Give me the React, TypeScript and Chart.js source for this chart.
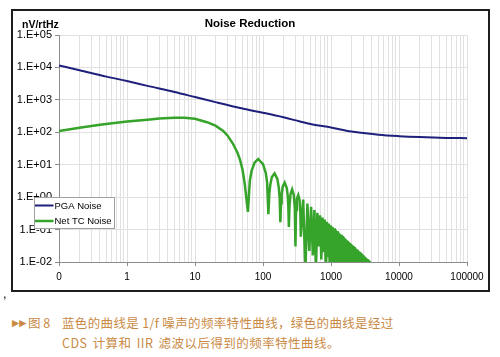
import React, { useEffect, useRef } from 'react';
import { Chart, registerables } from 'chart.js';

Chart.register(...registerables);

// ---- data ----
const chartTitle = 'Noise Reduction';
const yUnit = 'nV/rtHz';
const seriesNames = ['PGA Noise', 'Net TC Noise'];

const xTickValues = [0.1, 1, 10, 100, 1000, 10000, 100000];
const xTickLabels = ['0', '1', '10', '100', '1000', '10000', '100000'];
const yTickValues = [0.01, 0.1, 1, 10, 100, 1000, 10000, 100000];
const yTickLabels = ['1.E-02', '1.E-01', '1.E+00', '1.E+01', '1.E+02', '1.E+03', '1.E+04', '1.E+05'];

// [frequency, noise]
const pgaNoise: [number, number][] = [
  [0.1, 11500], [0.2, 8200], [0.5, 5200], [1, 3800], [2, 2700], [5, 1750],
  [10, 1220], [20, 850], [50, 540], [100, 400], [200, 290], [350, 215],
  [500, 180], [1000, 140], [2000, 105], [5000, 84], [10000, 76], [20000, 71],
  [50000, 67], [100000, 66],
];

const netTcNoise: [number, number][] = [
  [0.1, 110], [0.2, 138], [0.4, 172], [0.7, 198], [1, 214], [2, 245], [3, 265],
  [5, 280], [7, 280], [10, 260], [15, 205], [20, 160], [26, 110], [30, 80],
  [36, 45], [42, 24], [46, 14], [50, 7], [54, 2.5], [57, 0.9], [60, 0.35],
  [64, 3.2], [68, 6.5], [75, 11.5], [85, 15], [100, 10.5], [110, 5.5], [115, 2.8], [120, 0.3],
  [124, 1.3], [128, 2.4], [135, 4.2], [148, 5.4], [163, 3.6], [171, 1.9], [176, 0.9], [180, 0.17],
  [184, 0.65], [188, 1.2], [195, 2.1], [208, 2.8], [224, 1.9], [232, 1.0], [236, 0.5], [240, 0.12],
  [245, 0.5], [254, 1.25], [268, 1.73], [284, 1.15], [294, 0.45], [300, 0.03],
  [306, 0.4], [315, 0.9], [330, 1.16], [345, 0.8], [354, 0.35], [360, 0.06],
  [390, 0.84], [420, 0.005], [450, 0.64], [480, 0.022], [510, 0.5], [540, 0.016],
  [570, 0.4], [600, 0.005], [630, 0.33], [660, 0.03], [690, 0.276], [720, 0.012],
  [750, 0.235], [780, 0.02], [810, 0.203], [840, 0.004], [870, 0.175], [900, 0.014],
  [930, 0.155], [960, 0.004], [990, 0.136], [1020, 0.004], [1050, 0.122], [1080, 0.01],
  [1110, 0.11], [1140, 0.004], [1170, 0.099], [1200, 0.004], [1230, 0.0895], [1260, 0.008],
  [1290, 0.0815], [1320, 0.004], [1350, 0.0748], [1380, 0.004], [1410, 0.0687], [1440, 0.004],
  [1470, 0.0634], [1500, 0.004], [1530, 0.0585], [1560, 0.004], [1590, 0.0543], [1620, 0.004],
  [1650, 0.0506], [1680, 0.004], [1710, 0.0471], [1740, 0.004], [1770, 0.0441], [1800, 0.004],
  [1830, 0.0413], [1860, 0.004], [1890, 0.0388], [1920, 0.004], [1950, 0.0365], [1980, 0.004],
  [2010, 0.0344], [2040, 0.004], [2070, 0.0324], [2100, 0.004], [2130, 0.0308], [2160, 0.004],
  [2190, 0.0291], [2220, 0.004], [2250, 0.0276], [2280, 0.004], [2310, 0.0261], [2340, 0.004],
  [2370, 0.0249], [2400, 0.004], [2430, 0.0237], [2460, 0.004], [2490, 0.0226], [2520, 0.004],
  [2550, 0.0216], [2580, 0.004], [2610, 0.0206], [2640, 0.004], [2670, 0.0197], [2700, 0.004],
  [2730, 0.0189], [2760, 0.004], [2790, 0.0181], [2820, 0.004], [2850, 0.0174], [2880, 0.004],
  [2910, 0.0167], [2940, 0.004], [2970, 0.016], [3000, 0.004], [3030, 0.0155], [3060, 0.004],
  [3090, 0.0149], [3120, 0.004], [3150, 0.0143], [3180, 0.004], [3210, 0.0138], [3240, 0.004],
  [3270, 0.0133], [3300, 0.004], [3330, 0.0129], [3360, 0.004], [3390, 0.0124], [3420, 0.004],
  [3450, 0.012], [3480, 0.004], [3510, 0.0116], [3540, 0.004], [3570, 0.0112], [3600, 0.004],
  [3630, 0.0108], [3660, 0.004], [3690, 0.0105], [3720, 0.004], [3750, 0.0102], [3780, 0.004],
  [3810, 0.0099], [3840, 0.004],
];

const captionLine1 = '蓝色的曲线是 1/f 噪声的频率特性曲线，绿色的曲线是经过';
const captionLine2 = 'CDS 计算和 IIR 滤波以后得到的频率特性曲线。';
const figureLabel = '图 8';

// ---- styles ----
const FONT = '"Liberation Sans", Arial, sans-serif';
const BLUE = '#1f1f7c';
const GREEN = '#36a32a';
const GRID = '#e1e1e1';
const CAPTION = '#c98a46';

const isDecade = (v: number) => Math.abs(Math.log10(v) - Math.round(Math.log10(v))) < 1e-9;
const labelFor = (v: number, values: number[], labels: string[]) => {
  for (let i = 0; i < values.length; i++) {
    if (Math.abs(Math.log10(v) - Math.log10(values[i])) < 1e-9) return labels[i];
  }
  return '';
};

const xGridValues: number[] = [];
for (let i = 0; i < xTickValues.length - 1; i++) {
  for (let m = 1; m <= 9; m++) xGridValues.push(m * xTickValues[i]);
}
xGridValues.push(xTickValues[xTickValues.length - 1]);

const decorPlugin = {
  id: 'decor',
  afterDraw(chart: any) {
    const ctx = chart.ctx as CanvasRenderingContext2D;
    ctx.save();
    // title
    ctx.fillStyle = '#000';
    ctx.textBaseline = 'middle';
    ctx.textAlign = 'center';
    ctx.font = `bold 11.5px ${FONT}`;
    ctx.fillText(chartTitle, 250, 24);
    // unit
    ctx.textAlign = 'left';
    ctx.font = `bold 10.5px ${FONT}`;
    ctx.fillText(yUnit, 22, 25);
    // legend
    ctx.fillStyle = '#fff';
    ctx.fillRect(34.5, 197.5, 80, 31);
    ctx.strokeStyle = '#a0a0a0';
    ctx.lineWidth = 1;
    ctx.strokeRect(34.5, 197.5, 80, 31);
    const ds = chart.data.datasets;
    const rows = [205.5, 221];
    ds.forEach((d: any, i: number) => {
      ctx.strokeStyle = d.borderColor;
      ctx.lineWidth = d.borderWidth;
      ctx.beginPath();
      ctx.moveTo(35, rows[i]);
      ctx.lineTo(53.5, rows[i]);
      ctx.stroke();
      ctx.fillStyle = '#000';
      ctx.font = `9.5px ${FONT}`;
      ctx.textBaseline = 'middle';
      ctx.fillText(d.label, 54.5, rows[i] + 0.5);
    });
    ctx.restore();
  },
};

export default function App() {
  const ref = useRef<HTMLCanvasElement | null>(null);

  useEffect(() => {
    if (!ref.current) return;
    const chart = new Chart(ref.current, {
      type: 'line',
      data: {
        datasets: [
          {
            label: seriesNames[0],
            data: pgaNoise.map(([x, y]) => ({ x, y })),
            borderColor: BLUE,
            backgroundColor: BLUE,
            borderWidth: 2,
            pointRadius: 0,
            cubicInterpolationMode: 'monotone',
            fill: false,
          },
          {
            label: seriesNames[1],
            data: netTcNoise.map(([x, y]) => ({ x, y })),
            borderColor: GREEN,
            backgroundColor: GREEN,
            borderWidth: 2.5,
            pointRadius: 0,
            tension: 0,
            fill: false,
          },
        ],
      },
      options: {
        responsive: false,
        maintainAspectRatio: false,
        animation: false,
        devicePixelRatio: 1,
        layout: { padding: { left: 0, right: 33, top: 35, bottom: 10 } },
        plugins: {
          legend: { display: false },
          title: { display: false },
          tooltip: { enabled: false },
        },
        scales: {
          x: {
            type: 'logarithmic',
            position: 'bottom',
            min: 0.1,
            max: 100000,
            afterBuildTicks: (s: any) => {
              s.ticks = xGridValues.map((v) => ({ value: v }));
            },
            afterFit: (s: any) => {
              s.height = 20;
            },
            ticks: {
              autoSkip: false,
              maxRotation: 0,
              minRotation: 0,
              padding: 5,
              color: '#000',
              font: { family: FONT, size: 10 },
              callback: (v: any) => labelFor(Number(v), xTickValues, xTickLabels),
            },
            grid: {
              color: GRID,
              lineWidth: 1,
              tickLength: 4,
              tickColor: (c: any) => (c.tick && isDecade(c.tick.value) ? '#8c8c8c' : 'rgba(0,0,0,0)'),
            },
            border: { color: '#8c8c8c', width: 1 },
          },
          y: {
            type: 'logarithmic',
            min: 0.01,
            max: 100000,
            afterBuildTicks: (s: any) => {
              s.ticks = yTickValues.map((v) => ({ value: v }));
            },
            afterFit: (s: any) => {
              s.width = 59;
            },
            ticks: {
              autoSkip: false,
              padding: 3,
              color: '#000',
              font: { family: FONT, size: 11 },
              callback: (v: any) => labelFor(Number(v), yTickValues, yTickLabels),
            },
            grid: {
              color: GRID,
              lineWidth: 1,
              tickLength: 4,
              tickColor: '#8c8c8c',
            },
            border: { color: '#8c8c8c', width: 1 },
          },
        },
      } as any,
      plugins: [decorPlugin],
    });
    return () => chart.destroy();
  }, []);

  const captionFont = '"Noto Sans CJK SC", "Noto Sans", sans-serif';
  return (
    <div
      style={{
        position: 'fixed',
        left: 0,
        top: 0,
        width: 500,
        height: 357,
        background: '#fff',
        overflow: 'hidden',
      }}
    >
      <div
        style={{
          position: 'absolute',
          left: 11,
          top: 9,
          width: 479,
          height: 283,
          border: '2px solid #1e1e1e',
          boxSizing: 'border-box',
        }}
      />
      <canvas
        ref={ref}
        width={500}
        height={292}
        style={{ position: 'absolute', left: 0, top: 0, width: 500, height: 292 }}
      />
      <div style={{ position: 'absolute', left: 3, top: 286, fontFamily: FONT, fontSize: 13, color: '#000' }}>,</div>
      <div
        style={{
          position: 'absolute',
          left: 12,
          top: 317,
          fontFamily: '"DejaVu Sans", sans-serif',
          fontSize: 9.5,
          lineHeight: '12px',
          color: CAPTION,
          whiteSpace: 'nowrap',
        }}
      >
        ▶▶
      </div>
      <div
        style={{
          position: 'absolute',
          left: 28,
          top: 315,
          fontFamily: captionFont,
          fontSize: 12.5,
          lineHeight: '16px',
          color: CAPTION,
          whiteSpace: 'nowrap',
        }}
      >
        {figureLabel}
      </div>
      <div
        style={{
          position: 'absolute',
          left: 62,
          top: 315,
          fontFamily: captionFont,
          fontSize: 12.5,
          lineHeight: '16px',
          letterSpacing: '0.35px',
          color: CAPTION,
          whiteSpace: 'nowrap',
        }}
      >
        {captionLine1}
      </div>
      <div
        style={{
          position: 'absolute',
          left: 62,
          top: 335,
          fontFamily: captionFont,
          fontSize: 12.5,
          lineHeight: '16px',
          letterSpacing: '0.45px',
          wordSpacing: '2px',
          color: CAPTION,
          whiteSpace: 'nowrap',
        }}
      >
        {captionLine2}
      </div>
    </div>
  );
}
